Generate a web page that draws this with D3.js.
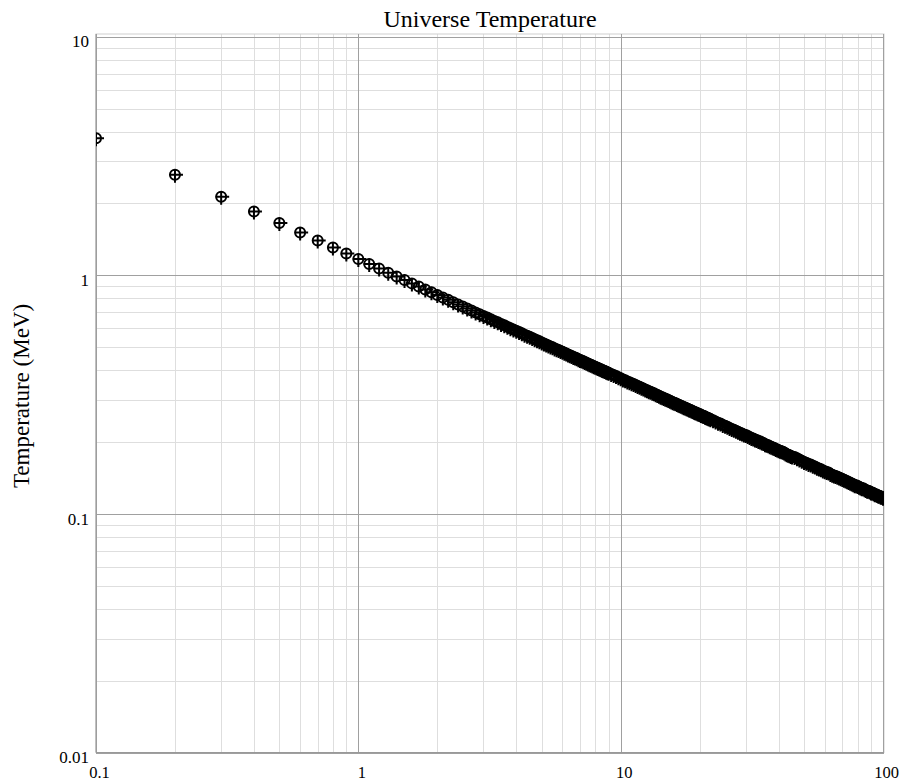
<!DOCTYPE html>
<html lang="en">
<head>
  <meta charset="UTF-8" />
  <title>Universe Temperature</title>
  <script src="https://d3js.org/d3.v7.min.js"></script>
  <style>
    body { margin: 0; background: #fff; }
    svg { display: block; font-family: "Liberation Serif", "Times New Roman", serif; }
    .grid line { shape-rendering: crispEdges; }
    .grid path { display: none; }
    .axis path, .axis line { display: none; }
    .axis text { font-size: 17px; fill: #000; font-family: "Liberation Serif", serif; }
    .axis.xaxis text { font-size: 16.5px; }
  </style>
</head>
<body>
  <svg width="913" height="782"></svg>

  <script>
  // time (s) -- markers
  const times = [
    0.1, 0.2, 0.3, 0.4, 0.5, 0.6, 0.7, 0.8, 0.9, 1.0,
    1.1, 1.2, 1.3, 1.4, 1.5, 1.6, 1.7, 1.8, 1.9, 2.0,
    2.1, 2.2, 2.3, 2.4, 2.5, 2.6, 2.7, 2.8, 2.9, 3.0,
    3.1, 3.2, 3.3, 3.4, 3.5, 3.6, 3.7, 3.8, 3.9, 4.0,
    4.1, 4.2, 4.3, 4.4, 4.5, 4.6, 4.7, 4.8, 4.9, 5.0,
    5.1, 5.2, 5.3, 5.4, 5.5, 5.6, 5.7, 5.8, 5.9, 6.0,
    6.1, 6.2, 6.3, 6.4, 6.5, 6.6, 6.7, 6.8, 6.9, 7.0,
    7.1, 7.2, 7.3, 7.4, 7.5, 7.6, 7.7, 7.8, 7.9, 8.0,
    8.1, 8.2, 8.3, 8.4, 8.5, 8.6, 8.7, 8.8, 8.9, 9.0,
    9.2, 9.4, 9.6, 9.8, 10.0, 10.2, 10.4, 10.6, 10.8, 11.0,
    11.2, 11.4, 11.6, 11.8, 12.0, 12.2, 12.4, 12.6, 12.8, 13.0,
    13.2, 13.4, 13.6, 13.8, 14.0, 14.2, 14.4, 14.6, 14.8, 15.0,
    15.2, 15.4, 15.6, 15.8, 16.0, 16.2, 16.4, 16.6, 16.8, 17.0,
    17.2, 17.4, 17.6, 17.8, 18.0, 18.2, 18.4, 18.6, 18.8, 19.0,
    19.2, 19.4, 19.6, 19.8, 20.0, 20.2, 20.4, 20.6, 20.8, 21.0,
    21.2, 21.4, 21.6, 21.8, 22.0,
    22.5, 23.0, 23.5, 24.0, 24.5, 25.0, 25.5, 26.0, 26.5, 27.0,
    27.5, 28.0, 28.5, 29.0, 29.5, 30.0, 30.5, 31.0, 31.5, 32.0,
    32.5, 33.0, 33.5, 34.0, 34.5, 35.0, 35.5, 36.0, 36.5, 37.0,
    37.5, 38.0, 38.5, 39.0, 39.5, 40.0, 40.5, 41.0, 41.5, 42.0,
    42.5, 43.0, 43.5, 44.0, 44.5, 45.0,
    46, 47, 48, 49, 50, 51, 52, 53, 54, 55,
    56, 57, 58, 59, 60, 61, 62, 63, 64, 65,
    66, 67, 68, 69, 70, 71, 72, 73, 74, 75,
    76, 77, 78, 79, 80, 81, 82, 83, 84, 85,
    86, 87, 88, 89, 90, 91, 92, 93, 94, 95,
    96, 97, 98, 99, 100
  ];

  // temperature (MeV)
  const temps = [
    3.75, 2.64, 2.136, 1.850, 1.655, 1.510, 1.398, 1.308, 1.233, 1.170,
    1.116, 1.068, 1.026, 0.989, 0.955, 0.925, 0.897, 0.872, 0.849, 0.827,
    0.807, 0.789, 0.771, 0.755, 0.740, 0.726, 0.712, 0.699, 0.687, 0.675,
    0.665, 0.654, 0.644, 0.635, 0.625, 0.617, 0.608, 0.600, 0.592, 0.585,
    0.578, 0.571, 0.564, 0.558, 0.552, 0.546, 0.540, 0.534, 0.529, 0.523,
    0.518, 0.513, 0.508, 0.503, 0.499, 0.494, 0.490, 0.486, 0.482, 0.478,
    0.474, 0.470, 0.466, 0.462, 0.459, 0.455, 0.452, 0.449, 0.445, 0.442,
    0.439, 0.436, 0.433, 0.430, 0.427, 0.424, 0.422, 0.419, 0.416, 0.414,
    0.411, 0.409, 0.406, 0.404, 0.401, 0.399, 0.397, 0.394, 0.392, 0.390,
    0.386, 0.382, 0.378, 0.374, 0.370, 0.366, 0.363, 0.359, 0.356, 0.353,
    0.350, 0.347, 0.344, 0.341, 0.338, 0.335, 0.332, 0.330, 0.327, 0.325,
    0.322, 0.320, 0.317, 0.315, 0.313, 0.310, 0.308, 0.306, 0.304, 0.302,
    0.300, 0.298, 0.296, 0.294, 0.292, 0.291, 0.289, 0.287, 0.285, 0.284,
    0.282, 0.280, 0.279, 0.277, 0.276, 0.274, 0.273, 0.271, 0.270, 0.268,
    0.267, 0.266, 0.264, 0.263, 0.262, 0.260, 0.259, 0.258, 0.257, 0.255,
    0.254, 0.253, 0.252, 0.251, 0.249,
    0.247, 0.244, 0.241, 0.239, 0.236, 0.234, 0.232, 0.229, 0.227, 0.225,
    0.223, 0.221, 0.219, 0.217, 0.215, 0.214, 0.212, 0.210, 0.208, 0.207,
    0.205, 0.204, 0.202, 0.201, 0.199, 0.198, 0.196, 0.195, 0.194, 0.192,
    0.191, 0.190, 0.189, 0.187, 0.186, 0.185, 0.184, 0.183, 0.182, 0.181,
    0.179, 0.178, 0.177, 0.176, 0.175, 0.174,
    0.173, 0.171, 0.169, 0.167, 0.165, 0.164, 0.162, 0.161, 0.159, 0.158,
    0.156, 0.155, 0.154, 0.152, 0.151, 0.150, 0.149, 0.147, 0.146, 0.145,
    0.144, 0.143, 0.142, 0.141, 0.140, 0.139, 0.138, 0.137, 0.136, 0.135,
    0.134, 0.133, 0.132, 0.132, 0.131, 0.130, 0.129, 0.128, 0.128, 0.127,
    0.126, 0.125, 0.125, 0.124, 0.123, 0.123, 0.122, 0.121, 0.121, 0.120,
    0.119, 0.119, 0.118, 0.118, 0.117
  ];

  const xTickLabels = [0.1, 1, 10, 100];
  const yTickLabels = [0.01, 0.1, 1, 10];

  const svg = d3.select("svg");
  const padL = 96, padR = 883, padT = 36.7, padB = 752.5;
  const frameT = 34, frameR = 884;

  const x = d3.scaleLog().domain([0.1, 100]).range([padL, padR]);
  const y = d3.scaleLog().domain([0.01, 10]).range([padB, padT]);

  const xAll = x.ticks();
  const yAll = y.ticks();
  const isMajor = v => Math.abs(Math.log10(v) - Math.round(Math.log10(v))) < 1e-9;

  // minor grid
  svg.append("g").attr("class", "grid")
    .attr("transform", `translate(0,${padB})`)
    .call(d3.axisBottom(x).tickValues(xAll.filter(v => !isMajor(v))).tickSize(-(padB - frameT)).tickFormat(""))
    .selectAll("line").attr("stroke", "#dedede");
  svg.append("g").attr("class", "grid")
    .attr("transform", `translate(${padL},0)`)
    .call(d3.axisLeft(y).tickValues(yAll.filter(v => !isMajor(v))).tickSize(-(frameR - padL)).tickFormat(""))
    .selectAll("line").attr("stroke", "#dedede");

  // frame
  svg.append("rect")
    .attr("x", padL).attr("y", frameT)
    .attr("width", frameR - padL).attr("height", padB - frameT)
    .attr("fill", "none").attr("stroke", "#cfcfcf").attr("stroke-width", 1);

  // major grid
  svg.append("g").attr("class", "grid")
    .attr("transform", `translate(0,${padB})`)
    .call(d3.axisBottom(x).tickValues(xTickLabels).tickSize(-(padB - frameT)).tickFormat(""))
    .selectAll("line").attr("stroke", "#a0a0a0");
  svg.append("g").attr("class", "grid")
    .attr("transform", `translate(${padL},0)`)
    .call(d3.axisLeft(y).tickValues(yTickLabels).tickSize(-(frameR - padL)).tickFormat(""))
    .selectAll("line").attr("stroke", "#a0a0a0");

  // axis lines
  svg.append("line").attr("x1", padL).attr("x2", padL).attr("y1", frameT).attr("y2", padB)
    .attr("stroke", "#999");
  svg.append("line").attr("x1", padL).attr("x2", frameR).attr("y1", padB).attr("y2", padB)
    .attr("stroke", "#999");

  // tick labels
  svg.append("g").attr("class", "axis xaxis")
    .attr("transform", `translate(0,${padB})`)
    .call(d3.axisBottom(x).tickValues(xTickLabels).tickSize(0).tickPadding(14).tickFormat(d => String(d)))
    .selectAll("text").attr("dx", 3);
  svg.append("g").attr("class", "axis")
    .attr("transform", `translate(${padL},0)`)
    .call(d3.axisLeft(y).tickValues(yTickLabels).tickSize(0).tickPadding(7).tickFormat(d => String(d)))
    .selectAll("text").attr("dy", "0.6em");

  // markers
  svg.append("clipPath").attr("id", "plot")
    .append("rect").attr("x", padL).attr("y", frameT).attr("width", frameR - padL).attr("height", padB - frameT);

  const pts = times.map((t, i) => ({ t, T: temps[i] }));
  const mk = svg.append("g").attr("clip-path", "url(#plot)")
    .attr("fill", "none").attr("stroke", "#000").attr("stroke-width", 2)
    .selectAll("g").data(pts).enter().append("g")
    .attr("transform", d => `translate(${x(d.t)},${y(d.T)})`);
  mk.append("circle").attr("r", 5);
  mk.append("path").attr("d", "M-5.5,0H8M0,-5.5V8");

  // titles
  svg.append("text")
    .attr("x", (padL + frameR) / 2).attr("y", 26.5)
    .attr("text-anchor", "middle")
    .style("font-size", "24px")
    .text("Universe Temperature");

  svg.append("text")
    .attr("transform", "translate(29,396) rotate(-90)")
    .attr("text-anchor", "middle")
    .style("font-size", "23px")
    .text("Temperature (MeV)");
  </script>
</body>
</html>
